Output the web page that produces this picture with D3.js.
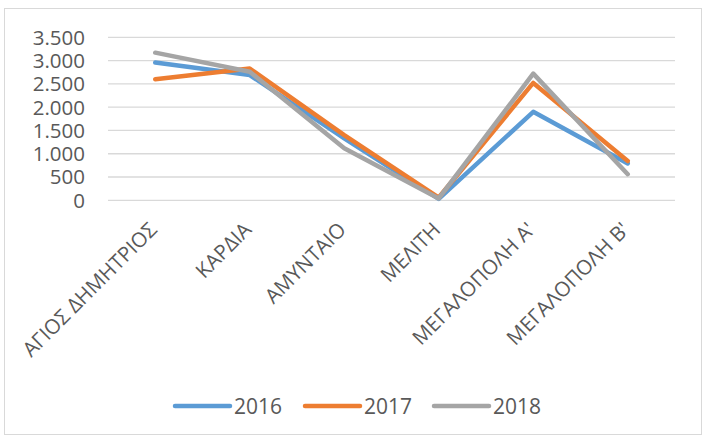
<!DOCTYPE html>
<html>
<head>
<meta charset="utf-8">
<script src="https://cdn.jsdelivr.net/npm/d3@7"></script>
<style>
  html, body { margin: 0; padding: 0; background: #fff; }
  svg text { font-family: "Open Sans", sans-serif; fill: #595959; }
</style>
</head>
<body>
<div id="chart"></div>
<script>
const categories = ['ΑΓΙΟΣ ΔΗΜΗΤΡΙΟΣ', 'ΚΑΡΔΙΑ', 'ΑΜΥΝΤΑΙΟ', 'ΜΕΛΙΤΗ', 'ΜΕΓΑΛΟΠΟΛΗ Α\'', 'ΜΕΓΑΛΟΠΟΛΗ Β\''];
const years = ['2016', '2017', '2018'];
const values2016 = [2960, 2690, 1330, 30, 1900, 790];
const values2017 = [2600, 2830, 1400, 60, 2520, 845];
const values2018 = [3170, 2760, 1120, 40, 2720, 560];
const yTicks = [0, 500, 1000, 1500, 2000, 2500, 3000, 3500];

const colors = ['#5B9BD5', '#ED7D31', '#A5A5A5'];
const series = [values2016, values2017, values2018];

const width = 703;
const height = 436;

const locale = d3.formatLocale({ decimal: ',', thousands: '.', grouping: [3], currency: ['', '€'] });
const fmt = locale.format(',');

const svg = d3.select('#chart')
  .append('svg')
  .attr('width', width)
  .attr('height', height);

// chart border
svg.append('rect')
  .attr('x', 4.5)
  .attr('y', 8.5)
  .attr('width', 697)
  .attr('height', 426)
  .attr('fill', 'none')
  .attr('stroke', '#D9D9D9');

const x = d3.scalePoint()
  .domain(categories)
  .range([108, 675])
  .padding(0.5);

const y = d3.scaleLinear()
  .domain([0, 3500])
  .range([200.3, 37.3]);

// gridlines
svg.append('g')
  .selectAll('line')
  .data(yTicks)
  .enter()
  .append('line')
  .attr('x1', 108)
  .attr('x2', 675)
  .attr('y1', d => y(d))
  .attr('y2', d => y(d))
  .attr('stroke', '#D9D9D9')
  .attr('stroke-width', 1.3);

// y tick labels
svg.append('g')
  .selectAll('text')
  .data(yTicks)
  .enter()
  .append('text')
  .attr('x', 85)
  .attr('y', d => y(d))
  .attr('dy', '0.36em')
  .style('text-anchor', 'end')
  .style('font-size', '20.5px')
  .text(d => fmt(d));

// x category labels
svg.append('g')
  .selectAll('text')
  .data(categories)
  .enter()
  .append('text')
  .attr('transform', d => `translate(${x(d) + 3},${231}) rotate(-45)`)
  .style('text-anchor', 'end')
  .style('font-size', '20.5px')
  .text(d => d);

// lines
const line = d3.line()
  .x((d, i) => x(categories[i]))
  .y(d => y(d));

svg.append('g')
  .selectAll('path')
  .data(series)
  .enter()
  .append('path')
  .attr('d', line)
  .attr('fill', 'none')
  .attr('stroke', (d, i) => colors[i])
  .attr('stroke-width', 4.5)
  .attr('stroke-linecap', 'round')
  .attr('stroke-linejoin', 'round');

// legend
const legendX = [175, 305, 434];
const legend = svg.append('g')
  .selectAll('g')
  .data(years)
  .enter()
  .append('g')
  .attr('transform', (d, i) => `translate(${legendX[i]},406)`);

legend.append('line')
  .attr('x1', 0)
  .attr('x2', 55)
  .attr('stroke', (d, i) => colors[i])
  .attr('stroke-width', 4.5)
  .attr('stroke-linecap', 'round');

legend.append('text')
  .attr('x', 59)
  .attr('dy', '0.36em')
  .style('font-size', '21px')
  .text(d => d);
</script>
</body>
</html>
